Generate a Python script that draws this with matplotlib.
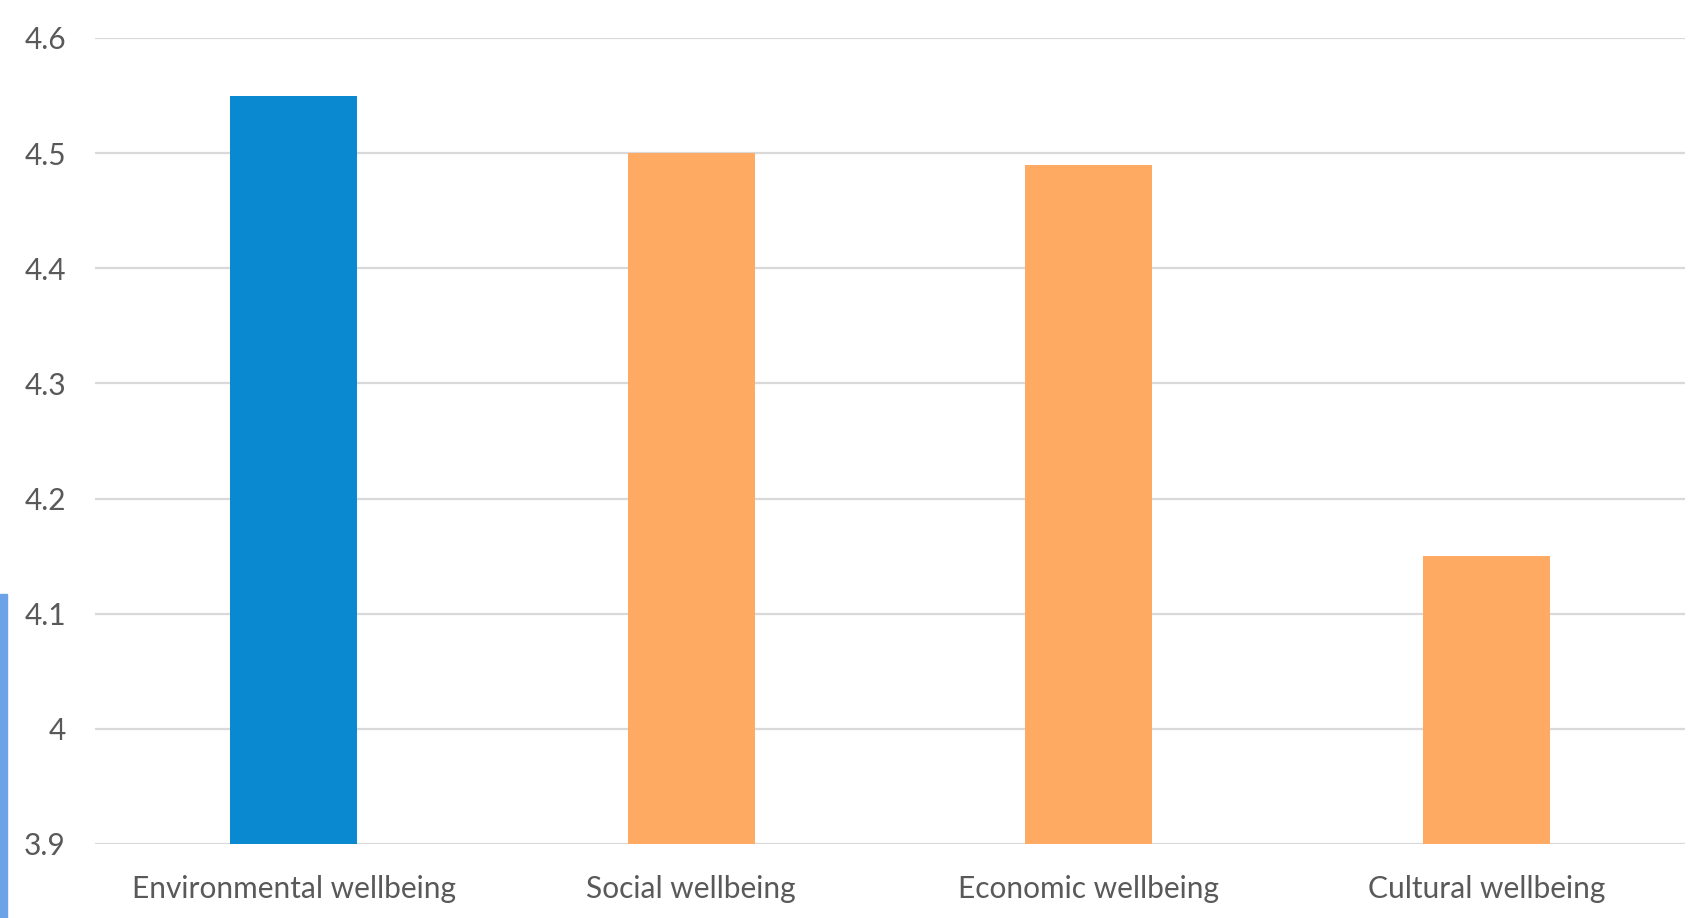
import matplotlib
matplotlib.use("Agg")
import matplotlib.pyplot as plt
from matplotlib.patches import Rectangle

categories = ["Environmental wellbeing", "Social wellbeing", "Economic wellbeing", "Cultural wellbeing"]
values = [4.55, 4.50, 4.49, 4.15]
bar_colors = ["#0B89D0", "#FFAA62", "#FFAA62", "#FFAA62"]
yticks = [3.9, 4.0, 4.1, 4.2, 4.3, 4.4, 4.5, 4.6]
ytick_labels = ["3.9", "4", "4.1", "4.2", "4.3", "4.4", "4.5", "4.6"]

plt.rcParams['font.family'] = ['Lato', 'DejaVu Sans']

fig = plt.figure(figsize=(16.96, 9.18), dpi=100)
ax = fig.add_axes([95/1696, 1-844/918, 1590/1696, (844-38)/918])

x = list(range(len(categories)))
ax.bar(x, values, width=0.32, color=bar_colors, zorder=3)
ax.set_xlim(-0.5, len(categories)-0.5)
ax.set_ylim(3.9, 4.6)
ax.set_yticks(yticks)
ax.set_yticklabels(ytick_labels)
ax.set_xticks(x)
ax.set_xticklabels(categories)
ax.tick_params(axis='both', length=0, labelsize=21.5, colors='#595959')
ax.tick_params(axis='y', pad=21)
ax.tick_params(axis='x', pad=22.5)
ax.yaxis.grid(True, color='#D9D9D9', linewidth=1.6, zorder=0)
ax.set_axisbelow(True)
for s in ax.spines.values():
    s.set_visible(False)

# left edge decoration strip
fig.patches.append(Rectangle((0, 0), 7/1696, 1-594/918, transform=fig.transFigure,
                             color='#6CA3E8', zorder=0))

fig.savefig("out.png", dpi=100)
